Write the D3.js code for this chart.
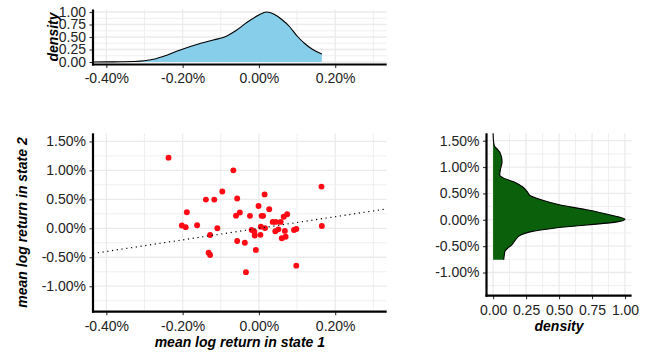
<!DOCTYPE html>
<html>
<head>
<meta charset="utf-8">
<script src="https://cdn.jsdelivr.net/npm/d3@7"></script>
<style>
  html, body { margin: 0; padding: 0; background: #fff; }
  svg { display: block; }
  text { font-family: "Liberation Sans", Arial, sans-serif; }
</style>
</head>
<body>
<svg id="chart" width="656" height="352"></svg>
<script>
// ---------- data ----------
const state1 = [-0.237, -0.067, 0.164, -0.096, -0.139, -0.117, -0.057, 0.015, -0.189, -0.050,
  -0.060, -0.0235, -0.001, 0.027, 0.007, 0.011, 0.036, 0.044, 0.057, 0.065,
  0.074, -0.202, -0.192, -0.162, -0.109, -0.128, 0.005, 0.016, -0.019, -0.012,
  -0.011, 0.004, 0.043, 0.051, 0.068, 0.070, 0.060, 0.092, 0.098, 0.165,
  -0.057, -0.037, -0.008, -0.132, -0.128, -0.034, 0.098];
const state2 = [1.22, 1.00, 0.72, 0.635, 0.495, 0.495, 0.515, 0.585, 0.277, 0.272,
  0.218, 0.215, 0.386, 0.330, 0.215, 0.215, 0.110, 0.110, 0.110, 0.200,
  0.243, 0.048, 0.020, 0.052, 0.000, -0.116, 0.028, 0.003, -0.030, -0.060,
  -0.125, -0.113, -0.050, -0.018, -0.045, -0.145, -0.173, -0.030, -0.013, 0.040,
  -0.220, -0.250, -0.376, -0.422, -0.462, -0.757, -0.645];

// density of state 1 (top panel)
const topDensX = [-0.435, -0.40, -0.36, -0.33, -0.30, -0.27, -0.24, -0.21, -0.18, -0.15,
  -0.12, -0.09, -0.06, -0.03, 0.00, 0.02, 0.04, 0.06, 0.08, 0.10, 0.12, 0.14, 0.165];
const topDensY = [0.0, 0.002, 0.005, 0.01, 0.025, 0.065, 0.14, 0.23, 0.31, 0.38,
  0.44, 0.50, 0.63, 0.80, 0.94, 1.00, 0.955, 0.85, 0.71, 0.52, 0.37, 0.255, 0.16];

// density of state 2 (right panel)
const rightDensY = [1.64, 1.50, 1.40, 1.33, 1.26, 1.10, 0.945, 0.85, 0.79, 0.72, 0.63, 0.53,
  0.46, 0.375, 0.28, 0.19, 0.09, 0.01, -0.04, -0.10, -0.16, -0.23, -0.29, -0.38,
  -0.48, -0.54, -0.60, -0.67, -0.76];
const rightDensV = [0.0, 0.003, 0.01, 0.035, 0.055, 0.068, 0.055, 0.05, 0.08, 0.156, 0.22, 0.26,
  0.28, 0.37, 0.51, 0.71, 0.89, 1.00, 0.94, 0.71, 0.46, 0.28, 0.21, 0.17,
  0.14, 0.11, 0.09, 0.085, 0.08];

// ticks
const xTicks = [-0.4, -0.2, 0, 0.2];
const xMinor = [-0.3, -0.1, 0.1, 0.3];
const yTicks = [-1, -0.5, 0, 0.5, 1, 1.5];
const yMinor = [-1.25, -0.75, -0.25, 0.25, 0.75, 1.25];
const densTicks = [0, 0.25, 0.5, 0.75, 1];
const densMinor = [0.125, 0.375, 0.625, 0.875];

const xTitle = "mean log return in state 1";
const yTitle = "mean log return in state 2";
const densTitle = "density";

// ---------- layout ----------
const svg = d3.select("#chart");
const pct = d => d.toFixed(2) + "%";
const num2 = d => d.toFixed(2);

const xS = d3.scaleLinear().domain([-0.435, 0.335]).range([93, 386.7]);
const yS = d3.scaleLinear().domain([-1.44, 1.64]).range([311.7, 133.3]);
const yTop = d3.scaleLinear().domain([-0.05, 1.05]).range([64.5, 9.5]);
const yR = d3.scaleLinear().domain([-1.44, 1.64]).range([295.7, 133.3]);
const xR = d3.scaleLinear().domain([-0.05, 1.05]).range([486.5, 631.6]);

function grid(xsc, ysc, xMaj, xMin, yMaj, yMin) {
  const g = svg.append("g");
  const [x0, x1] = xsc.range();
  const [y0, y1] = ysc.range();
  xMin.forEach(v => g.append("line").attr("x1", xsc(v)).attr("x2", xsc(v)).attr("y1", y0).attr("y2", y1)
    .attr("stroke", "#ebebeb").attr("stroke-width", 0.8));
  yMin.forEach(v => g.append("line").attr("y1", ysc(v)).attr("y2", ysc(v)).attr("x1", x0).attr("x2", x1)
    .attr("stroke", "#ebebeb").attr("stroke-width", 0.8));
  xMaj.forEach(v => g.append("line").attr("x1", xsc(v)).attr("x2", xsc(v)).attr("y1", y0).attr("y2", y1)
    .attr("stroke", "#ebebeb").attr("stroke-width", 1.3));
  yMaj.forEach(v => g.append("line").attr("y1", ysc(v)).attr("y2", ysc(v)).attr("x1", x0).attr("x2", x1)
    .attr("stroke", "#ebebeb").attr("stroke-width", 1.3));
}

function axes(xsc, ysc, xMaj, yMaj, xFmt, yFmt) {
  const [x0, x1] = xsc.range();
  const [y0, y1] = ysc.range();
  const ax = svg.append("g").attr("transform", `translate(0,${y0})`)
    .call(d3.axisBottom(xsc).tickValues(xMaj).tickFormat(xFmt).tickSize(3.5).tickPadding(5.5));
  const ay = svg.append("g").attr("transform", `translate(${x0},0)`)
    .call(d3.axisLeft(ysc).tickValues(yMaj).tickFormat(yFmt).tickSize(3.5).tickPadding(3.5));
  [ax, ay].forEach(a => {
    a.select(".domain").remove();
    a.selectAll(".tick line").attr("stroke", "#333").attr("stroke-width", 1.1);
    a.selectAll(".tick text").attr("fill", "#222").style("font-size", "14px")
      .style("font-family", '"Liberation Sans", Arial, sans-serif');
  });
  svg.append("line").attr("x1", x0).attr("x2", x0).attr("y1", y1).attr("y2", y0 + 1)
    .attr("stroke", "#000").attr("stroke-width", 2.2);
  svg.append("line").attr("x1", x0 - 1).attr("x2", x1).attr("y1", y0).attr("y2", y0)
    .attr("stroke", "#000").attr("stroke-width", 2.2);
}

// ---------- top density panel ----------
grid(xS, yTop, xTicks, xMinor, densTicks, densMinor);
const topData = topDensX.map((x, i) => ({x, y: topDensY[i]}));
svg.append("path").datum(topData)
  .attr("d", d3.area().x(d => xS(d.x)).y0(yTop(0)).y1(d => yTop(d.y)).curve(d3.curveMonotoneX))
  .attr("fill", "#87CEEB");
svg.append("path").datum(topData)
  .attr("d", d3.line().x(d => xS(d.x)).y(d => yTop(d.y)).curve(d3.curveMonotoneX))
  .attr("fill", "none").attr("stroke", "#000").attr("stroke-width", 1.1);
axes(xS, yTop, xTicks, densTicks, pct, num2);
svg.append("text").attr("transform", `translate(57.5,${(9.5 + 64.5) / 2}) rotate(-90)`)
  .attr("text-anchor", "middle").style("font-size", "14px").style("font-weight", "bold")
  .style("font-style", "italic").attr("fill", "#000").text(densTitle);

// ---------- scatter panel ----------
grid(xS, yS, xTicks, xMinor, yTicks, yMinor);
const pts = state1.map((x, i) => ({x, y: state2[i]}));
svg.append("g").selectAll("circle").data(pts).join("circle")
  .attr("cx", d => xS(d.x)).attr("cy", d => yS(d.y)).attr("r", 2.95)
  .attr("fill", "#FF0A14");
const dom = xS.domain();
svg.append("line")
  .attr("x1", xS(dom[0])).attr("y1", yS(dom[0])).attr("x2", xS(dom[1])).attr("y2", yS(dom[1]))
  .attr("stroke", "#000").attr("stroke-width", 1.2).attr("stroke-dasharray", "1.2,3.6");
axes(xS, yS, xTicks, yTicks, pct, pct);
svg.append("text").attr("x", (93 + 386.7) / 2).attr("y", 346.5).attr("text-anchor", "middle")
  .style("font-size", "14px").style("font-weight", "bold").style("font-style", "italic")
  .attr("fill", "#000").text(xTitle);
svg.append("text").attr("transform", `translate(27,${(133.3 + 311.7) / 2}) rotate(-90)`)
  .attr("text-anchor", "middle").style("font-size", "14px").style("font-weight", "bold")
  .style("font-style", "italic").attr("fill", "#000").text(yTitle);

// ---------- right density panel ----------
grid(xR, yR, densTicks, densMinor, yTicks, yMinor);
const rData = rightDensY.map((y, i) => ({y, v: rightDensV[i]}));
svg.append("path").datum(rData)
  .attr("d", d3.area().y(d => yR(d.y)).x0(xR(0)).x1(d => xR(d.v)).curve(d3.curveMonotoneY))
  .attr("fill", "#0B600B");
svg.append("path").datum(rData)
  .attr("d", d3.line().y(d => yR(d.y)).x(d => xR(d.v)).curve(d3.curveMonotoneY))
  .attr("fill", "none").attr("stroke", "#000").attr("stroke-width", 1.1);
axes(xR, yR, densTicks, yTicks, num2, pct);
svg.append("text").attr("x", (486.5 + 631.6) / 2).attr("y", 330.5).attr("text-anchor", "middle")
  .style("font-size", "14px").style("font-weight", "bold").style("font-style", "italic")
  .attr("fill", "#000").text(densTitle);
</script>
</body>
</html>
